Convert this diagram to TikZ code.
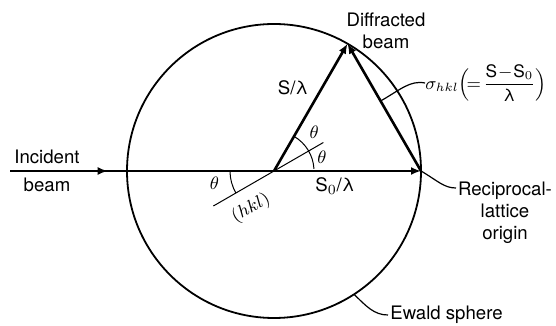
\documentclass[tikz,border=0pt]{standalone}
\usepackage{amsmath}
\usepackage{fontspec}
\setmainfont{TeX Gyre Heros}
\usetikzlibrary{arrows.meta, calc, decorations.markings}
\tikzset{
  beam/.style={line width=1.3pt, color=black},
  arrow/.style={-{Latex[length=5pt,width=4pt]}, beam},
  midarrow/.style={beam, postaction={decorate},
    decoration={markings, mark=at position 0.37 with {\arrow{Latex[length=5pt,width=4pt]}}}},
  sphere/.style={line width=0.9pt},
  thinline/.style={line width=0.5pt},
  leader/.style={line width=0.6pt},
  lbl/.style={font=\fontsize{9.3}{11}\selectfont, align=center, inner sep=1pt}
}

\begin{document}
\begin{tikzpicture}[x=0.5pt, y=0.5pt]
  \useasboundingbox (0,0) rectangle (556,326);

  % Ewald sphere
  \coordinate (O) at (274,155);
  \draw[sphere] (O) circle[radius=147];

  % Points
  \coordinate (I) at (10,155);
  \coordinate (R) at ($(O)+(0:147)$);
  \coordinate (T) at ($(O)+(60:147)$);

  % Beams
  \draw[midarrow] (I) -- (O);
  \draw[arrow] (O) -- (R);
  \draw[arrow] (O) -- (T);
  \draw[arrow] (R) -- (T);

  % Reflecting plane
  \draw[thinline] ($(O)+(210:70)$) -- ($(O)+(30:57)$);
  \node[lbl, rotate=30, inner sep=0pt] (hkl) at (251,118) {$(hkl)$};

  % Angles
  \draw[thinline] ($(O)+(60:40)$) arc[start angle=60, end angle=3, radius=40];
  \draw[thinline] ($(O)+(180:44)$) arc[start angle=180, end angle=210, radius=44];
  \node[lbl] (th1) at ($(O)+(44:56)$) {$\theta$};
  \node[lbl] (th2) at ($(O)+(16:50)$) {$\theta$};
  \node[lbl] (th3) at ($(O)+(192:61)$) {$\theta$};

  % Labels
  \node[lbl] (diff) at (386,295) {Diffracted\\beam};
  \node[lbl] (slam) at (293,238) {S/λ};
  \node[lbl] (s0lam) at (335,140) {S$_0$/λ};
  \node[lbl] (inc) at (47,169) {Incident};
  \node[lbl] (incb) at (47,141) {beam};
  \node[lbl, anchor=west, inner sep=0pt, font=\fontsize{8.6}{10}\selectfont] (sigma) at (425,243)
    {$\sigma_{hkl}\Bigl(\!=\!\dfrac{\text{S}\!-\!\text{S}_0}{\text{λ}}\Bigr)$};
  \node[lbl] (recip) at (505,113) {Reciprocal-\\lattice\\origin};
  \node[lbl, anchor=west] (ewald) at (388,11) {Ewald sphere};

  % Leaders
  \coordinate (sm) at ($(R)!0.55!(T)$);
  \draw[leader] (sm) .. controls (400,236) and (410,246) .. (sigma.west);
  \coordinate (rl) at (456,138);
  \draw[leader] (R) .. controls (438,145) and (444,138) .. (rl);
  \coordinate (ew) at ($(O)+(-57:147)$);
  \draw[leader] (ew) .. controls (366,20) and (374,11) .. (ewald.west);
\end{tikzpicture}
\end{document}
